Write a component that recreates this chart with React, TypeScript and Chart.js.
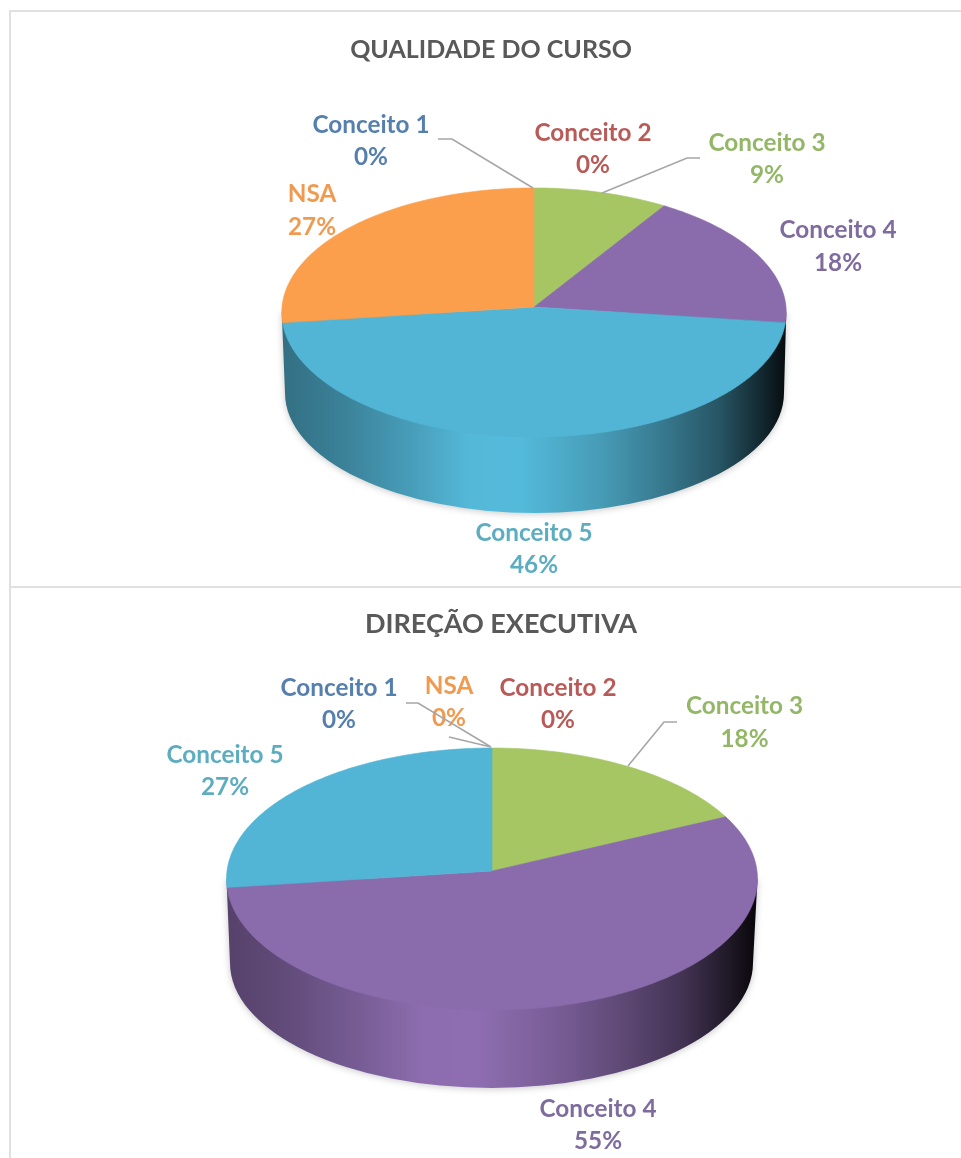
import React, { useEffect, useRef } from "react";
import Chart from "chart.js/auto";

const categories = ["Conceito 1", "Conceito 2", "Conceito 3", "Conceito 4", "Conceito 5", "NSA"];
const sliceColors = ["#4f81bd", "#c0504d", "#a5c663", "#8a6bac", "#52b5d5", "#fb9f4d"];
const labelColors = ["#557fae", "#b85a57", "#93b767", "#7f6c9f", "#5dadc0", "#f09a50"];

const qualidadeTitle = "QUALIDADE DO CURSO";
const qualidadeValues = [0, 0, 9, 18, 46, 27];
const direcaoTitle = "DIREÇÃO EXECUTIVA";
const direcaoValues = [0, 0, 18, 55, 27, 0];

const TITLE_COLOR = "#595959";
const LEADER_COLOR = "#a6a6a6";
const FONT = '"Lato", sans-serif';

// brightness of the wall from left to right, as [position, factor]
const wallShade: [number, number][] = [
  [0, 0.62], [0.12, 0.72], [0.26, 0.88], [0.37, 1.02], [0.47, 1.03], [0.63, 0.86],
  [0.75, 0.68], [0.87, 0.47], [0.95, 0.24], [1, 0.08],
];

function shade(hex: string, f: number) {
  const n = parseInt(hex.slice(1), 16);
  const c = (v: number) => Math.min(255, Math.round(v * f));
  return `rgb(${c((n >> 16) & 255)},${c((n >> 8) & 255)},${c(n & 255)})`;
}

type Layout = {
  top: number; height: number;
  padding: { left: number; right: number; top: number; bottom: number };
  persp: number; depthScale: number;
  wall: { dx: number; dy: number; rx: number; ry: number };
  title: { x: number; y: number; size: number };
  labels: [number, number, number][]; // x, first baseline, second baseline per category
  leaders: [number, number][][];
};

const qualidadeLayout: Layout = {
  top: 0, height: 587,
  padding: { left: 282, right: 175, top: 55, bottom: 28 },
  persp: -0.0442, depthScale: 124.3,
  wall: { dx: 0.5, dy: 86, rx: 249.5, ry: 120 },
  title: { x: 491, y: 58, size: 25 },
  labels: [[371, 133, 165], [593, 141, 173], [767, 151, 183], [838, 238, 271], [534, 541, 573], [312, 202, 235]],
  leaders: [
    [[438, 139], [452, 139], [533, 188]],
    [[700, 158], [687, 158], [602, 193]],
  ],
};

const direcaoLayout: Layout = {
  top: 587, height: 571,
  padding: { left: 227, right: 204, top: 19, bottom: 22 },
  persp: -0.061, depthScale: 130.5,
  wall: { dx: -0.5, dy: 92, rx: 261.5, ry: 125 },
  title: { x: 501, y: 46, size: 27 },
  labels: [[339, 109, 141], [558, 109, 141], [744.5, 127, 160], [598, 530, 562], [225, 176, 208], [449, 107, 139]],
  leaders: [
    [[406, 116], [418, 116], [491, 160]],
    [[449, 150], [491, 160]],
    [[677, 135], [664, 135], [628, 179]],
  ],
};

function pie3d(title: string, values: number[], L: Layout) {
  return {
    id: "pie3d",
    beforeDatasetsDraw(chart: any) {
      const ctx = chart.ctx;
      const arcs = chart.getDatasetMeta(0).data;
      const cx = arcs[0].x, cy = arcs[0].y, R = arcs[0].outerRadius;
      const p = L.persp, S = L.depthScale;
      // Library arc angle to the tilted disc
      const project = (a: number) => {
        const th = a + Math.PI / 2;
        const u = Math.sin(th), v = -Math.cos(th), d = 1 + p * v;
        return [cx + (R * u) / d, cy + (S * v) / d];
      };
      const rx = R / Math.sqrt(1 - p * p);
      const midY = cy + (S / (1 + p) - S / (1 - p)) / 2;

      // the wall takes the colour of the slice facing the viewer the most
      let front = 0, best = -1;
      arcs.forEach((arc: any, i: number) => {
        const a = Math.max(arc.startAngle, 0), b = Math.min(arc.endAngle, Math.PI);
        if (b - a > best) { best = b - a; front = i; }
      });
      const base = sliceColors[front];
      const wx = cx + L.wall.dx, wy = cy + L.wall.dy;
      const g = ctx.createLinearGradient(wx - L.wall.rx, 0, wx + L.wall.rx, 0);
      wallShade.forEach(([pos, f]) => g.addColorStop(pos, shade(base, f)));
      ctx.save();
      ctx.shadowColor = "rgba(0,0,0,0.22)";
      ctx.shadowBlur = 7;
      ctx.shadowOffsetY = 1;
      ctx.fillStyle = g;
      ctx.beginPath();
      ctx.moveTo(cx - rx, midY);
      ctx.lineTo(wx - L.wall.rx, wy);
      ctx.ellipse(wx, wy, L.wall.rx, L.wall.ry, 0, Math.PI, 0, true);
      ctx.lineTo(cx + rx, midY);
      ctx.closePath();
      ctx.fill();
      ctx.restore();

      arcs.forEach((arc: any, i: number) => {
        if (arc.endAngle - arc.startAngle < 1e-4) return;
        ctx.beginPath();
        ctx.moveTo(cx, cy);
        const n = Math.ceil((arc.endAngle - arc.startAngle) * 60);
        for (let k = 0; k <= n; k++) {
          const [x, y] = project(arc.startAngle + ((arc.endAngle - arc.startAngle) * k) / n);
          ctx.lineTo(x, y);
        }
        ctx.closePath();
        ctx.fillStyle = sliceColors[i];
        ctx.strokeStyle = sliceColors[i];
        ctx.lineWidth = 0.6;
        ctx.fill();
        ctx.stroke();
      });
      return false;
    },
    afterDraw(chart: any) {
      const ctx = chart.ctx;
      ctx.save();
      ctx.textAlign = "center";
      ctx.textBaseline = "alphabetic";
      ctx.fillStyle = TITLE_COLOR;
      ctx.font = `700 ${L.title.size}px ${FONT}`;
      ctx.fillText(title, L.title.x, L.title.y);
      ctx.font = `700 24.3px ${FONT}`;
      categories.forEach((name, i) => {
        const [x, y1, y2] = L.labels[i];
        ctx.fillStyle = labelColors[i];
        ctx.fillText(name, x, y1);
        ctx.fillText(`${values[i]}%`, x, y2);
      });
      ctx.strokeStyle = LEADER_COLOR;
      ctx.lineWidth = 1.6;
      L.leaders.forEach((pts) => {
        ctx.beginPath();
        pts.forEach(([x, y], k) => (k ? ctx.lineTo(x, y) : ctx.moveTo(x, y)));
        ctx.stroke();
      });
      ctx.restore();
    },
  };
}

function Pie({ title, values, layout }: { title: string; values: number[]; layout: Layout }) {
  const ref = useRef<HTMLCanvasElement>(null);
  useEffect(() => {
    const chart = new Chart(ref.current as HTMLCanvasElement, {
      type: "pie",
      data: {
        labels: categories,
        datasets: [{ data: values, backgroundColor: sliceColors, borderWidth: 0, hoverOffset: 0 }],
      },
      options: {
        animation: false,
        responsive: false,
        events: [],
        layout: { padding: layout.padding },
        plugins: { legend: { display: false }, tooltip: { enabled: false } },
      },
      plugins: [pie3d(title, values, layout)],
    });
    return () => chart.destroy();
  }, []);
  return (
    <canvas
      ref={ref}
      width={961}
      height={layout.height}
      style={{ position: "absolute", left: 0, top: layout.top, width: 961, height: layout.height, display: "block" }}
    />
  );
}

const rule = "#e0e0e0";

export default function App() {
  return (
    <div style={{ position: "fixed", left: 0, top: 0, width: 961, height: 1158, overflow: "hidden", background: "#fff" }}>
      <div style={{ filter: "blur(0.45px)" }}>
        <Pie title={qualidadeTitle} values={qualidadeValues} layout={qualidadeLayout} />
        <Pie title={direcaoTitle} values={direcaoValues} layout={direcaoLayout} />
      </div>
      <div style={{ position: "absolute", left: 9, top: 10, width: 952, height: 2, background: rule }} />
      <div style={{ position: "absolute", left: 9, top: 10, width: 2, height: 1148, background: rule }} />
      <div style={{ position: "absolute", left: 9, top: 586, width: 952, height: 2, background: rule }} />
    </div>
  );
}
